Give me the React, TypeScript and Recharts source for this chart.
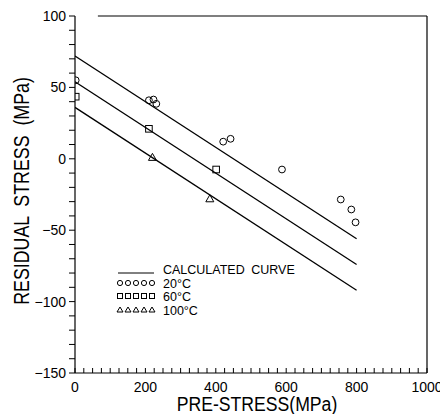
import React from 'react'
import {
  ComposedChart,
  Line,
  Scatter,
  XAxis,
  YAxis,
  ReferenceLine,
} from 'recharts'

// calculated curves (straight lines), pre-stress 0..800 MPa
const curveX = [0, 800]
const curve20 = [72, -56]
const curve60 = [54, -74]
const curve100 = [36, -92]

// measured points
const pts20X = [2, 210, 223, 231, 421, 442, 588, 755, 785, 797]
const pts20Y = [55, 41, 41.5, 38.5, 12, 14, -7.5, -28.5, -35.5, -44.5]
const pts60X = [2, 210, 401]
const pts60Y = [43.5, 21, -7.5]
const pts100X = [220, 383]
const pts100Y = [1, -28]

const xLabels = [0, 200, 400, 600, 800, 1000]
const yLabels = [-150, -100, -50, 0, 50, 100]

const xMinor = Array.from({ length: 41 }, (_, i) => i * 25)
const yMinor = Array.from({ length: 26 }, (_, i) => -150 + i * 10)

const toXY = (xs: number[], ys: number[]) => xs.map((x, i) => ({ x, y: ys[i] }))

const FONT = '"Liberation Sans", Arial, sans-serif'

const Circle = (p: any) => <circle cx={p.cx} cy={p.cy} r={3.4} fill="none" stroke="#000" strokeWidth={1} />
const Square = (p: any) => (
  <rect x={p.cx - 3.3} y={p.cy - 3.3} width={6.6} height={6.6} fill="none" stroke="#000" strokeWidth={1} />
)
const Triangle = (p: any) => (
  <polygon
    points={`${p.cx - 4},${p.cy + 3} ${p.cx + 4},${p.cy + 3} ${p.cx},${p.cy - 4}`}
    fill="none"
    stroke="#000"
    strokeWidth={1}
  />
)

function XTick(props: any) {
  const { x, y, payload } = props
  const v = payload.value
  return (
    <g>
      <line x1={x} x2={x} y1={y} y2={y - 5} stroke="#000" strokeWidth={1} />
      {xLabels.includes(v) && (
        <text x={x} y={y + 19} textAnchor="middle" fontSize={14} fontFamily={FONT} fill="#000">
          {v}
        </text>
      )}
    </g>
  )
}

function YTick(props: any) {
  const { x, y, payload } = props
  const v = payload.value
  return (
    <g>
      <line x1={x - 6} x2={x} y1={y} y2={y} stroke="#000" strokeWidth={1} />
      {yLabels.includes(v) && (
        <text x={x - 9} y={y + 5} textAnchor="end" fontSize={14} fontFamily={FONT} fill="#000">
          {v < 0 ? '\u2212' + Math.abs(v) : v}
        </text>
      )}
    </g>
  )
}

// plotter lettering is narrow, so squeeze the titles horizontally
const XTitle = () => (
  <text
    transform="translate(257 411) scale(0.84 1)"
    textAnchor="middle"
    fontSize={21}
    fontFamily={FONT}
    fill="#000"
  >
    PRE-STRESS(MPa)
  </text>
)

const YTitle = () => (
  <text
    transform="translate(21 191) rotate(-90) scale(0.81 1)"
    textAnchor="middle"
    dominantBaseline="central"
    fontSize={22}
    fontFamily={FONT}
    wordSpacing={6}
    fill="#000"
  >
    RESIDUAL STRESS (MPa)
  </text>
)

function LegendBox() {
  const dots = [0, 1, 2, 3, 4]
  return (
    <svg width={200} height={60} style={{ position: 'absolute', left: 110, top: 262, overflow: 'visible' }}>
      <line x1={8} x2={44} y1={11} y2={11} stroke="#000" strokeWidth={1} />
      <text x={53} y={12} fontSize={12.5} fontFamily={FONT} wordSpacing={3}>CALCULATED CURVE</text>
      {dots.map((i) => (
        <circle key={'c' + i} cx={10 + i * 8} cy={21} r={2.6} fill="none" stroke="#000" />
      ))}
      <text x={53} y={26} fontSize={12.5} fontFamily={FONT}>20°C</text>
      {dots.map((i) => (
        <rect key={'s' + i} x={7.5 + i * 8} y={31.5} width={5} height={5} fill="none" stroke="#000" />
      ))}
      <text x={53} y={39} fontSize={12.5} fontFamily={FONT}>60°C</text>
      {dots.map((i) => (
        <polygon
          key={'t' + i}
          points={`${7 + i * 8},${50} ${13 + i * 8},${50} ${10 + i * 8},${45}`}
          fill="none"
          stroke="#000"
        />
      ))}
      <text x={53} y={53} fontSize={12.5} fontFamily={FONT}>100°C</text>
    </svg>
  )
}

export default function App() {
  return (
    <div style={{ position: 'absolute', left: 0, top: 0, width: 440, height: 414, background: '#fff' }}>
      <ComposedChart width={440} height={414} margin={{ top: 16, right: 13, bottom: 0, left: 0 }}>
        <XAxis
          type="number"
          dataKey="x"
          domain={[0, 1000]}
          ticks={xMinor}
          interval={0}
          tick={<XTick />}
          tickLine={false}
          tickSize={0}
          tickMargin={0}
          height={41}
          axisLine={{ stroke: '#000', strokeWidth: 1.2 }}
          allowDataOverflow
          label={<XTitle />}
        />
        <YAxis
          type="number"
          dataKey="y"
          domain={[-150, 100]}
          ticks={yMinor}
          interval={0}
          tick={<YTick />}
          tickLine={false}
          tickSize={0}
          tickMargin={0}
          width={75}
          axisLine={{ stroke: '#000', strokeWidth: 1.2 }}
          allowDataOverflow
          label={<YTitle />}
        />
        <ReferenceLine
          segment={[
            { x: 65, y: 100 },
            { x: 1000, y: 100 },
          ]}
          stroke="#000"
          strokeWidth={1.2}
        />
        <ReferenceLine x={1000} stroke="#000" strokeWidth={1.2} />
        <Line data={toXY(curveX, curve20)} dataKey="y" stroke="#000" strokeWidth={1.3} dot={false} isAnimationActive={false} />
        <Line data={toXY(curveX, curve60)} dataKey="y" stroke="#000" strokeWidth={1.3} dot={false} isAnimationActive={false} />
        <Line data={toXY(curveX, curve100)} dataKey="y" stroke="#000" strokeWidth={1.3} dot={false} isAnimationActive={false} />
        <Scatter data={toXY(pts20X, pts20Y)} shape={Circle} isAnimationActive={false} />
        <Scatter data={toXY(pts60X, pts60Y)} shape={Square} isAnimationActive={false} />
        <Scatter data={toXY(pts100X, pts100Y)} shape={Triangle} isAnimationActive={false} />
      </ComposedChart>
      <LegendBox />
    </div>
  )
}
